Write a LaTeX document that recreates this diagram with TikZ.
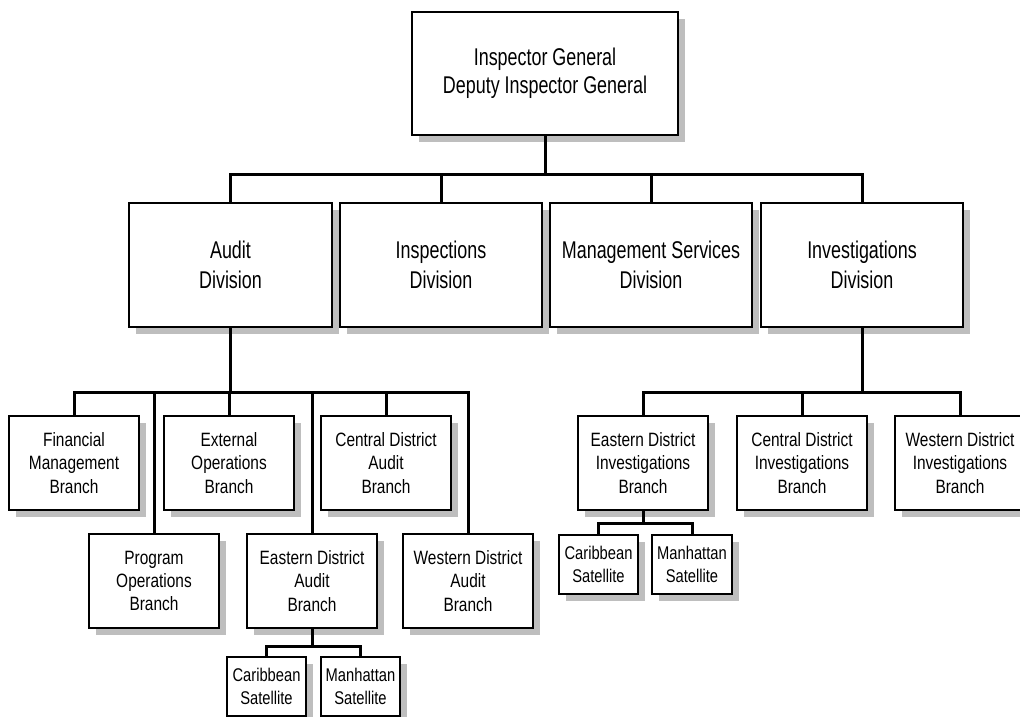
\documentclass[tikz,border=0pt]{standalone}
\usepackage{fontspec}
\setmainfont[FakeStretch=0.78]{Liberation Sans}
\newfontfamily\bigfont[FakeStretch=0.74]{Liberation Sans}
\newfontfamily\brfont[FakeStretch=0.80]{Liberation Sans}
\usetikzlibrary{shadows}
\definecolor{shadowgray}{RGB}{190,190,190}
\tikzset{
  orgbox/.style={draw=black, line width=1.8pt, fill=white, align=center, inner sep=0pt,
    drop shadow={shadow xshift=7pt, shadow yshift=-7pt, fill=shadowgray, opacity=1}},
  topbox/.style={orgbox, font=\bigfont\fontsize{24.2}{28}\selectfont},
  divbox/.style={orgbox, minimum width=202pt, minimum height=124pt, font=\bigfont\fontsize{24.2}{30}\selectfont},
  branchbox/.style={orgbox, minimum width=130pt, minimum height=94pt, font=\brfont\fontsize{19.3}{23.4}\selectfont},
  satbox/.style={orgbox, minimum height=59pt, font=\brfont\fontsize{18.4}{23.5}\selectfont},
  link/.style={draw=black, line width=3pt}
}
\begin{document}
\begin{tikzpicture}[x=1pt, y=-1pt]
\useasboundingbox (0,0) rectangle (1020,717);
\clip (0,0) rectangle (1020,717);
% top
\node[topbox, minimum width=266pt, minimum height=123pt] (top) at (545,73.5) {Inspector General\\Deputy Inspector General};
% divisions
\node[divbox, minimum width=203pt] (audit) at (230.5,265) {Audit\\Division};
\node[divbox] (insp) at (441,265) {Inspections\\Division};
\node[divbox] (mgmt) at (651,265) {Management Services\\Division};
\node[divbox] (inv) at (862,265) {Investigations\\Division};
\coordinate (busA) at (0,174);
\draw[link] (top.south) -- (top.south |- busA);
\draw[link] (audit.north) -- (audit.north |- busA) -- (inv.north |- busA) -- (inv.north);
\draw[link] (insp.north) -- (insp.north |- busA);
\draw[link] (mgmt.north) -- (mgmt.north |- busA);
% audit branches
\node[branchbox] (fin) at (74,463) {Financial\\Management\\Branch};
\node[branchbox] (ext) at (229,463) {External\\Operations\\Branch};
\node[branchbox] (cda) at (386,463) {Central District\\Audit\\Branch};
\node[branchbox] (prog) at (154,581) {Program\\Operations\\Branch};
\node[branchbox] (eda) at (312,581) {Eastern District\\Audit\\Branch};
\node[branchbox] (wda) at (468,581) {Western District\\Audit\\Branch};
\coordinate (busB) at (0,392);
\draw[link] (audit.south) -- (audit.south |- busB);
\draw[link] (fin.north) -- (fin.north |- busB) -- (wda.north |- busB) -- (wda.north);
\draw[link] (ext.north) -- (ext.north |- busB);
\draw[link] (cda.north) -- (cda.north |- busB);
\draw[link] (prog.north) -- (prog.north |- busB);
\draw[link] (eda.north) -- (eda.north |- busB);
% audit satellites
\node[satbox, minimum width=79pt] (car1) at (266.5,686.5) {Caribbean\\Satellite};
\node[satbox, minimum width=79pt] (man1) at (360.5,686.5) {Manhattan\\Satellite};
\coordinate (busC) at (0,646);
\draw[link] (eda.south) -- (eda.south |- busC);
\draw[link] (car1.north) -- (car1.north |- busC) -- (man1.north |- busC) -- (man1.north);
% investigation branches
\node[branchbox] (edi) at (643,463) {Eastern District\\Investigations\\Branch};
\node[branchbox] (cdi) at (802,463) {Central District\\Investigations\\Branch};
\node[branchbox] (wdi) at (960,463) {Western District\\Investigations\\Branch};
\draw[link] (inv.south) -- (inv.south |- busB);
\draw[link] (edi.north) -- (edi.north |- busB) -- (wdi.north |- busB) -- (wdi.north);
\draw[link] (cdi.north) -- (cdi.north |- busB);
% investigation satellites
\node[satbox, minimum width=79pt] (car2) at (598.5,564.5) {Caribbean\\Satellite};
\node[satbox, minimum width=80pt] (man2) at (692,564.5) {Manhattan\\Satellite};
\coordinate (busD) at (0,523);
\draw[link] (edi.south) -- (edi.south |- busD);
\draw[link] (car2.north) -- (car2.north |- busD) -- (man2.north |- busD) -- (man2.north);
\end{tikzpicture}
\end{document}
